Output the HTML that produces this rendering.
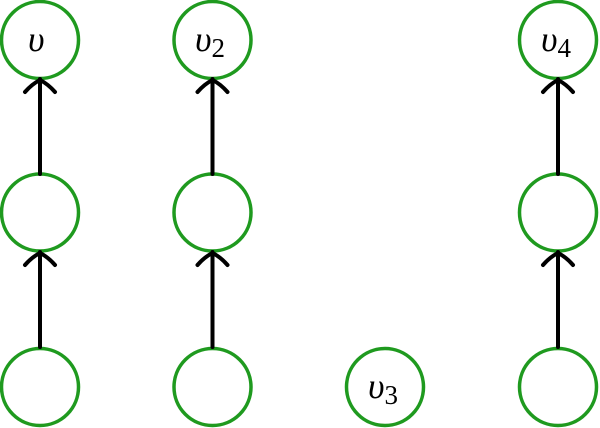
<!DOCTYPE html>
<html><head><style>html,body{margin:0;padding:0;background:#fff;width:600px;height:428px;overflow:hidden}</style></head>
<body>
<svg width="600" height="428" viewBox="0 0 600 428" xmlns="http://www.w3.org/2000/svg">
<g fill="none" stroke="#1f9a1f" stroke-width="3.5">
<circle cx="40" cy="40" r="38.5"/><circle cx="212.5" cy="40" r="38.5"/><circle cx="558" cy="40" r="38.5"/>
<circle cx="40" cy="212.5" r="38.5"/><circle cx="212.5" cy="212.5" r="38.5"/><circle cx="558" cy="212.5" r="38.5"/>
<circle cx="40" cy="387" r="38.5"/><circle cx="212.5" cy="387" r="38.5"/><circle cx="385" cy="387" r="38.5"/><circle cx="558" cy="387" r="38.5"/>
</g>
<g fill="none" stroke="#000" stroke-width="4" stroke-linecap="round">
<g id="a"><line x1="40" y1="174" x2="40" y2="79"/><path d="M25 92 Q32 84 40 80 Q48 84 55 92"/></g>
<use href="#a" transform="translate(172.5,0)"/>
<use href="#a" transform="translate(518,0)"/>
<use href="#a" transform="translate(0,173)"/>
<use href="#a" transform="translate(172.5,173)"/>
<use href="#a" transform="translate(518,173)"/>
</g>
<g font-family="Liberation Serif, serif" font-style="italic" font-size="36" fill="#000">
<text x="28" y="51">υ</text>
<text x="195" y="51">υ<tspan font-style="normal" font-size="27" dy="6">2</tspan></text>
<text x="541" y="51">υ<tspan font-style="normal" font-size="27" dy="6">4</tspan></text>
<text x="368" y="398">υ<tspan font-style="normal" font-size="27" dy="6">3</tspan></text>
</g>
</svg>
</body></html>
